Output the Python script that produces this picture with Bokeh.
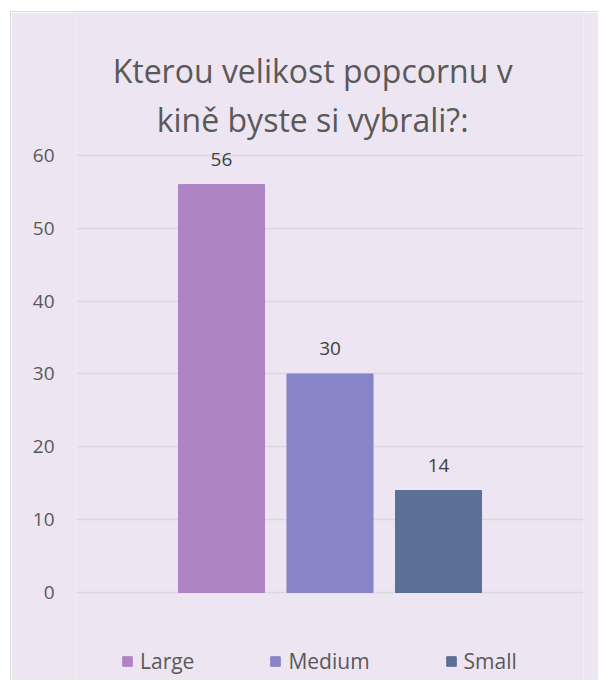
from bokeh.plotting import figure
from bokeh.models import Range1d, FixedTicker, Label, Legend, LegendItem, ColumnDataSource
from bokeh.core.properties import value
from bokeh.embed import file_html
from bokeh.resources import INLINE

title_lines = ["Kterou velikost popcornu v", "kině byste si vybrali?:"]
categories = ["Large", "Medium", "Small"]
values = [56, 30, 14]
colors = ["#AE84C5", "#8784C7", "#5C6F97"]
y_ticks = [0, 10, 20, 30, 40, 50, 60]

FONT = "Open Sans"
TXT = "#595959"
BG = "#EDE5F2"

# frame spans the full canvas height; y range extended beyond 0..60 to hold title & legend
p = figure(width=588, height=669, output_backend="svg", toolbar_location=None,
           x_range=Range1d(-2.336, 2.336), y_range=Range1d(-12.22, 79.63),
           min_border_left=65, min_border_right=16, min_border_top=0, min_border_bottom=0,
           background_fill_color=BG, border_fill_color=BG, outline_line_color=None,
           styles={"margin-left": "10px", "margin-top": "11px",
                   "border-left": "1px solid #D9D9D9", "border-top": "1px solid #D9D9D9"})

p.xaxis.visible = False
p.xgrid.visible = False
p.yaxis.ticker = FixedTicker(ticks=y_ticks)
p.ygrid.ticker = FixedTicker(ticks=y_ticks)
p.ygrid.grid_line_color = "#D9D9D9"
p.ygrid.grid_line_width = 1.3
p.yaxis.axis_line_color = None
p.yaxis.major_tick_line_color = None
p.yaxis.minor_tick_line_color = None
p.yaxis.major_tick_out = 0
p.yaxis.major_tick_in = 0
p.yaxis.major_label_standoff = 22
p.yaxis.major_label_text_font = FONT
p.yaxis.major_label_text_font_size = "19px"
p.yaxis.major_label_text_color = TXT

positions = [-1, 0, 1]
items = []
for i, (cat, val, col) in enumerate(zip(categories, values, colors)):
    src = ColumnDataSource(dict(x=[positions[i]], top=[val], lab=[str(val)]))
    r = p.vbar(x="x", top="top", width=0.793, source=src, fill_color=col, line_color=col)
    p.text(x="x", y="top", text="lab", source=src, text_align="center", text_baseline="middle",
           y_offset=-25, text_font=value(FONT), text_font_size=value("19px"), text_color="#404040")
    items.append(LegendItem(label=cat, renderers=[r]))

legend = Legend(items=items, orientation="horizontal", location=(45, 6),
                glyph_width=12, glyph_height=12, label_standoff=7, spacing=75,
                padding=0, margin=0, border_line_color=None, background_fill_alpha=0,
                label_text_font=FONT, label_text_font_size="21px", label_text_color=TXT,
                label_height=20, label_width=10)
p.add_layout(legend, "center")

for txt, yv in zip(title_lines, [71.65, 64.9]):
    p.add_layout(Label(x=-0.16, y=yv, text=txt, text_align="center", text_baseline="middle",
                       text_font=FONT, text_font_size="32px", text_color=TXT))

open("out.html", "w").write(file_html(p, INLINE))
